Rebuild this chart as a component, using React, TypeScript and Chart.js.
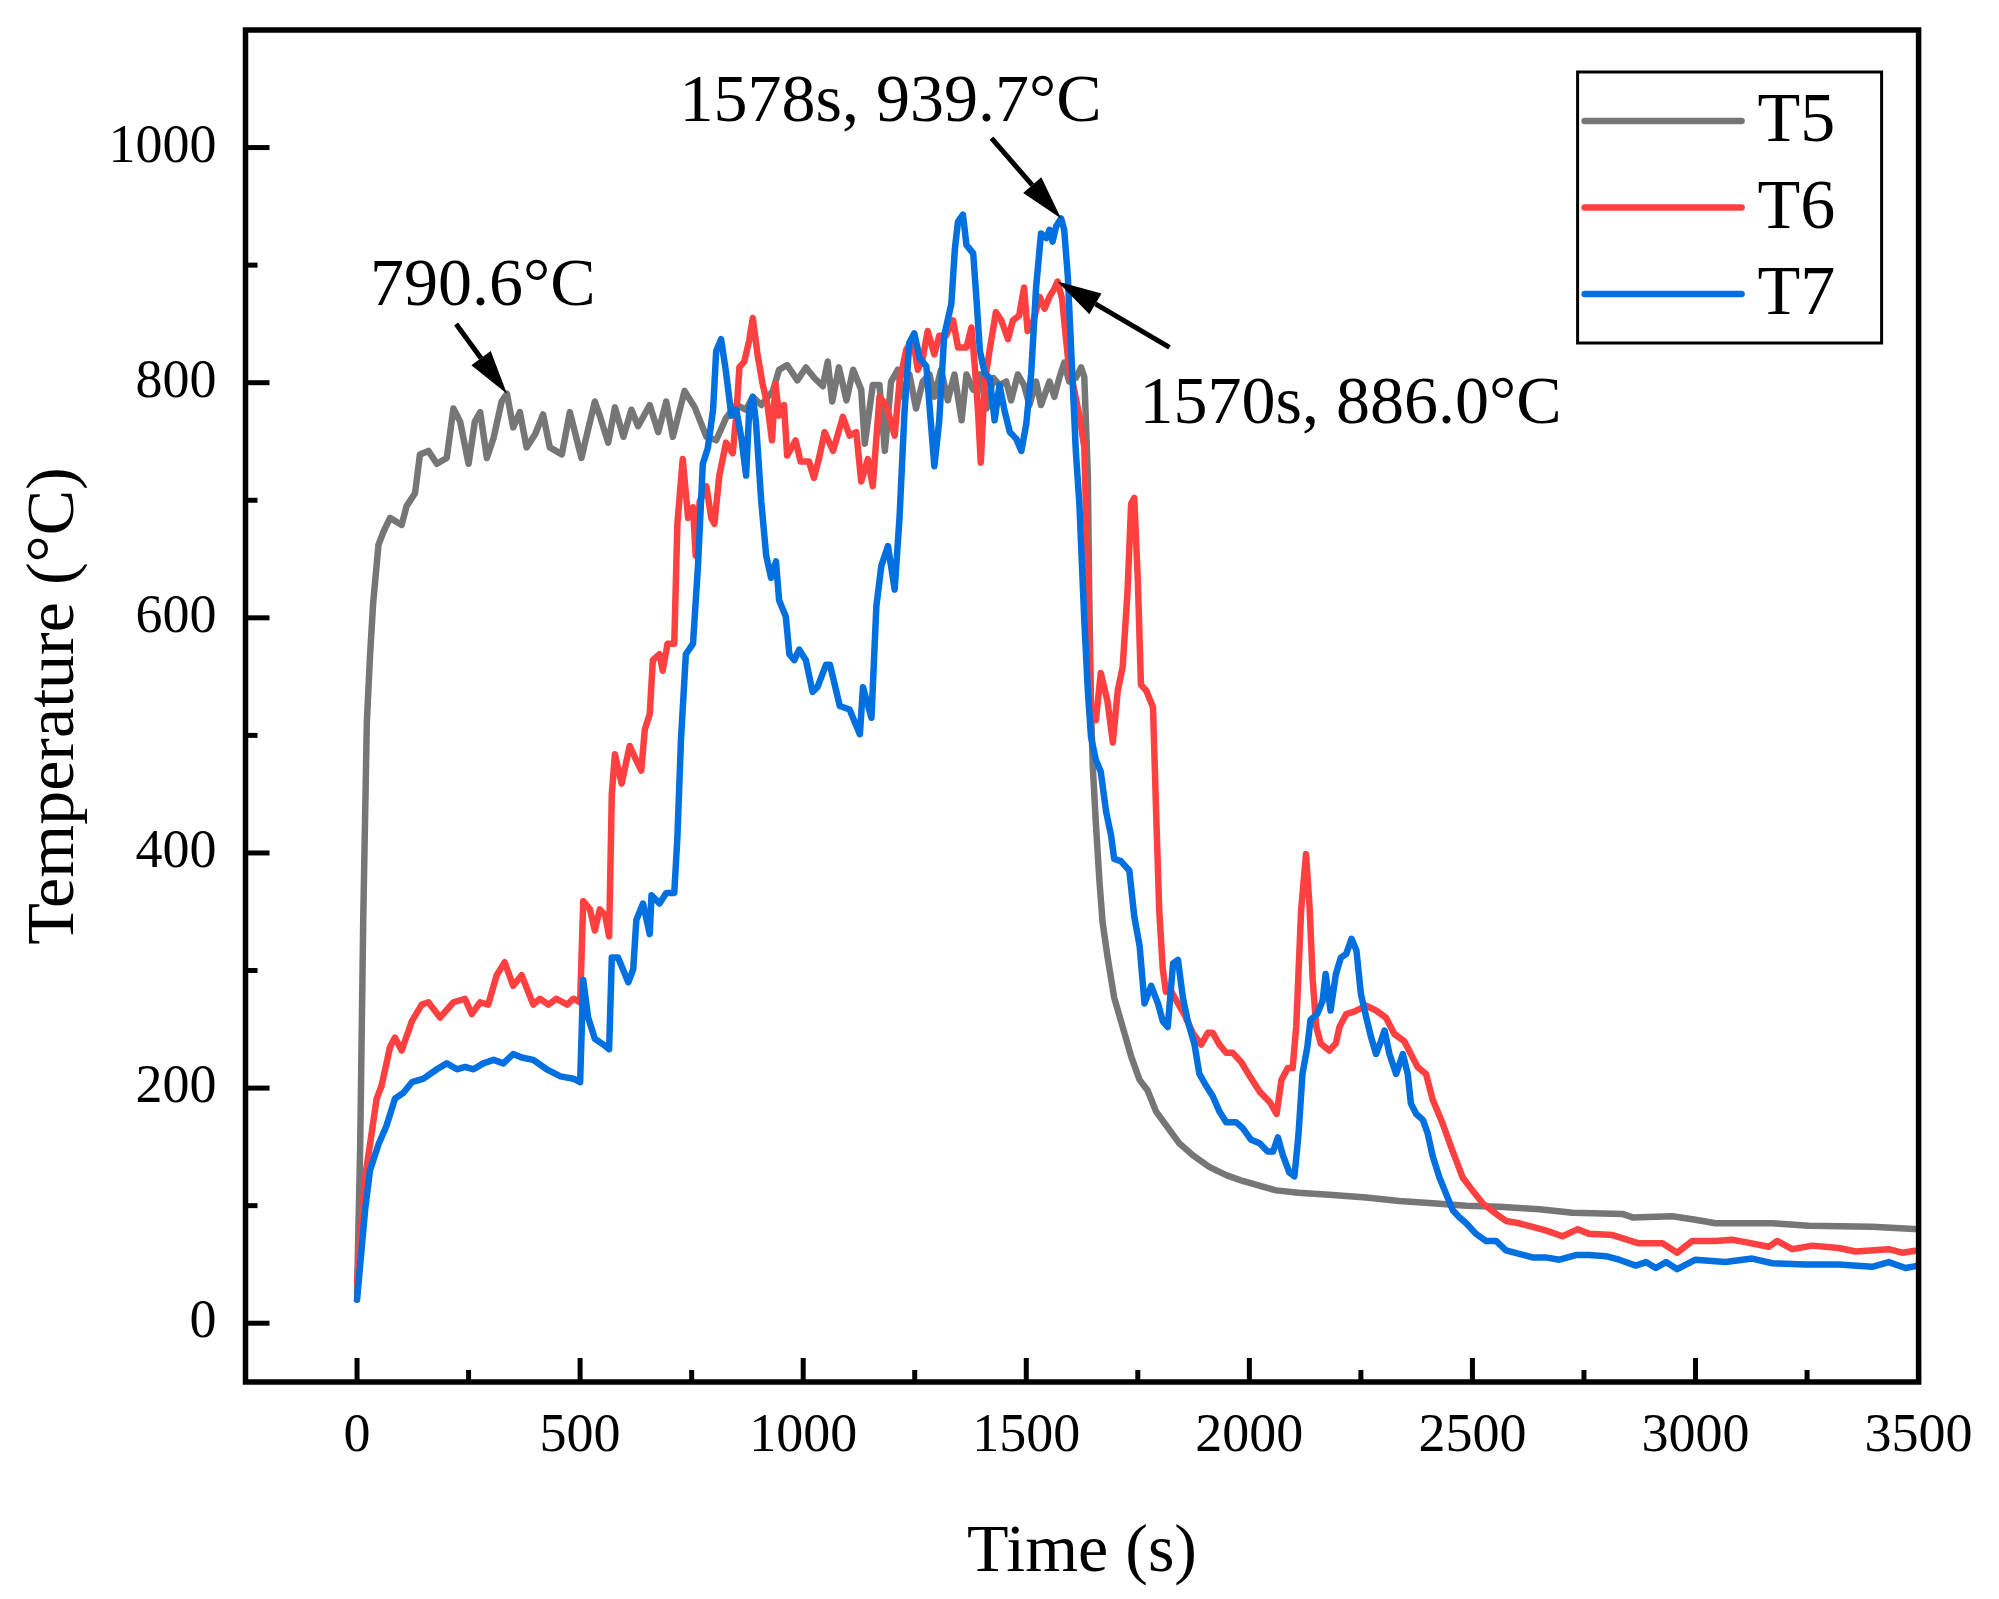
import { Chart, registerables } from 'chart.js';
import { useEffect, useRef } from 'react';

Chart.register(...registerables);

// time (s) / temperature (°C)
const t5Time = [0, 7, 14, 22, 29, 36, 48, 59, 74, 100, 111, 130, 141, 160, 179, 201, 216, 231, 250, 264, 276, 291, 306, 324, 336, 350, 365, 380, 399, 417, 432, 459, 477, 503, 514, 533, 544, 563, 578, 597, 615, 630, 656, 675, 693, 708, 734, 757, 783, 805, 827, 850, 872, 887, 906, 932, 946, 964, 987, 1006, 1025, 1044, 1055, 1065, 1080, 1097, 1112, 1130, 1138, 1156, 1171, 1183, 1197, 1212, 1224, 1238, 1253, 1268, 1283, 1294, 1309, 1324, 1339, 1355, 1366, 1381, 1396, 1411, 1426, 1440, 1455, 1466, 1481, 1495, 1507, 1522, 1533, 1552, 1563, 1574, 1585, 1596, 1611, 1623, 1630, 1638, 1641, 1645, 1649, 1656, 1664, 1671, 1682, 1697, 1716, 1735, 1754, 1772, 1791, 1814, 1843, 1873, 1910, 1948, 1985, 2022, 2060, 2110, 2187, 2262, 2336, 2411, 2486, 2560, 2650, 2724, 2836, 2859, 2948, 3000, 3045, 3172, 3254, 3396, 3500];
const t5Temp = [25, 150, 346, 512, 567, 612, 662, 673, 685, 679, 695, 706, 739, 742, 731, 736, 778, 767, 731, 767, 775, 736, 753, 784, 790.6, 762, 775, 745, 756, 773, 745, 739, 775, 736, 754, 784, 772, 749, 779, 754, 777, 763, 781, 758, 784, 754, 793, 779, 754, 751, 770, 781, 777, 788, 781, 793, 811, 815, 802, 813, 804, 797, 818, 784, 813, 785, 811, 794, 748, 798, 798, 742, 801, 811, 788, 807, 778, 801, 807, 788, 811, 785, 807, 768, 807, 794, 807, 778, 804, 798, 801, 785, 807, 798, 781, 801, 781, 801, 788, 804, 817, 801, 804, 813, 805, 721, 623, 524, 474, 425, 376, 341, 312, 277, 252, 227, 207, 198, 180, 168, 153, 143, 133, 126, 121, 117, 113, 111, 109, 107, 104, 102, 100, 99, 97, 94, 93, 90, 91, 88, 85, 85, 83, 82, 80];

const t6Time = [0, 18, 29, 44, 55, 74, 85, 100, 123, 145, 160, 186, 216, 242, 257, 276, 294, 313, 331, 350, 369, 395, 410, 429, 447, 471, 485, 500, 507, 522, 533, 544, 556, 565, 571, 578, 593, 611, 622, 637, 645, 656, 663, 678, 685, 696, 711, 718, 730, 742, 753, 759, 768, 783, 794, 801, 812, 827, 842, 850, 857, 868, 879, 887, 898, 909, 920, 930, 938, 946, 957, 964, 983, 994, 1013, 1024, 1035, 1048, 1067, 1089, 1104, 1119, 1130, 1145, 1156, 1171, 1186, 1205, 1216, 1231, 1246, 1257, 1268, 1279, 1294, 1305, 1320, 1336, 1347, 1366, 1377, 1384, 1392, 1398, 1407, 1418, 1432, 1444, 1459, 1470, 1484, 1495, 1503, 1514, 1530, 1541, 1552, 1563, 1570, 1580, 1587, 1595, 1604, 1619, 1630, 1637, 1645, 1656, 1667, 1682, 1694, 1705, 1716, 1727, 1735, 1742, 1750, 1757, 1769, 1784, 1791, 1798, 1806, 1813, 1825, 1840, 1855, 1873, 1892, 1907, 1918, 1933, 1948, 1963, 1982, 2001, 2023, 2046, 2061, 2072, 2086, 2097, 2105, 2116, 2127, 2135, 2142, 2150, 2160, 2179, 2194, 2202, 2217, 2235, 2262, 2284, 2306, 2325, 2347, 2362, 2377, 2396, 2411, 2433, 2455, 2478, 2500, 2523, 2553, 2575, 2605, 2635, 2664, 2702, 2736, 2762, 2814, 2873, 2926, 2959, 2993, 3045, 3082, 3112, 3164, 3183, 3217, 3262, 3321, 3359, 3433, 3463, 3500];
const t6Temp = [35, 124, 152, 191, 202, 235, 243, 232, 257, 271, 273, 260, 273, 276, 263, 273, 271, 296, 307, 287, 296, 271, 276, 271, 276, 271, 276, 273, 359, 352, 334, 352, 347, 329, 450, 484, 459, 491, 482, 470, 505, 518, 564, 569, 555, 578, 578, 680, 735, 685, 694, 653, 699, 712, 685, 680, 721, 749, 740, 772, 813, 818, 836, 855, 823, 799, 781, 751, 799, 772, 781, 738, 751, 733, 733, 719, 735, 758, 742, 771, 755, 758, 716, 735, 712, 788, 781, 755, 801, 828, 837, 811, 821, 844, 824, 840, 840, 853, 830, 830, 847, 817, 775, 732, 801, 828, 860, 853, 837, 853, 857, 881, 844, 850, 873, 863, 873, 880, 886, 872, 845, 815, 800, 772, 745, 647, 524, 513, 553, 529, 494, 538, 558, 623, 697, 702, 632, 543, 538, 524, 435, 351, 301, 282, 282, 272, 262, 247, 237, 247, 247, 237, 230, 230, 222, 210, 197, 188, 178, 207, 217, 217, 252, 351, 399, 354, 292, 252, 238, 232, 238, 252, 263, 265, 270, 266, 260, 246, 240, 229, 218, 212, 190, 170, 147, 124, 113, 102, 93, 87, 85, 82, 79, 74, 80, 76, 75, 68, 68, 60, 70, 70, 71, 69, 65, 70, 63, 66, 64, 61, 63, 60, 62];

const t7Time = [0, 18, 29, 48, 66, 85, 104, 123, 149, 179, 201, 224, 242, 261, 283, 306, 328, 350, 369, 395, 425, 456, 485, 500, 507, 518, 533, 552, 565, 571, 585, 608, 619, 626, 641, 656, 660, 678, 693, 711, 718, 726, 737, 753, 764, 775, 786, 798, 805, 816, 827, 839, 850, 861, 872, 879, 887, 894, 906, 917, 928, 939, 946, 961, 969, 980, 991, 1006, 1021, 1032, 1051, 1060, 1082, 1104, 1127, 1134, 1153, 1164, 1175, 1190, 1205, 1216, 1227, 1238, 1249, 1261, 1276, 1287, 1294, 1305, 1316, 1332, 1340, 1347, 1358, 1366, 1381, 1388, 1396, 1407, 1418, 1429, 1440, 1452, 1463, 1478, 1489, 1500, 1511, 1522, 1533, 1545, 1552, 1559, 1567, 1578, 1585, 1593, 1604, 1611, 1619, 1630, 1638, 1645, 1656, 1667, 1679, 1690, 1697, 1712, 1731, 1742, 1754, 1765, 1780, 1795, 1806, 1817, 1829, 1840, 1851, 1862, 1877, 1888, 1903, 1918, 1933, 1948, 1970, 1985, 2004, 2023, 2041, 2053, 2064, 2075, 2090, 2101, 2110, 2119, 2130, 2137, 2152, 2164, 2171, 2182, 2194, 2205, 2217, 2229, 2240, 2250, 2262, 2273, 2284, 2295, 2303, 2314, 2329, 2344, 2355, 2362, 2374, 2389, 2400, 2411, 2426, 2441, 2456, 2471, 2486, 2508, 2530, 2553, 2575, 2605, 2635, 2664, 2695, 2732, 2762, 2799, 2829, 2866, 2889, 2911, 2934, 2959, 3000, 3067, 3127, 3172, 3247, 3321, 3396, 3433, 3471, 3500];
const t7Temp = [20, 96, 130, 152, 168, 191, 196, 205, 208, 216, 221, 216, 218, 216, 221, 224, 221, 229, 226, 224, 216, 210, 208, 205, 292, 260, 242, 237, 233, 311, 311, 290, 301, 343, 357, 331, 364, 357, 366, 366, 413, 496, 569, 578, 643, 731, 744, 777, 827, 837, 809, 772, 777, 754, 721, 777, 788, 767, 699, 653, 634, 648, 615, 601, 569, 564, 573, 564, 537, 541, 560, 560, 525, 522, 501, 541, 515, 610, 644, 661, 624, 686, 775, 834, 842, 821, 814, 762, 729, 768, 840, 867, 914, 937, 943, 917, 910, 873, 827, 808, 804, 768, 798, 775, 758, 752, 742, 765, 808, 881, 927, 923, 930, 920, 933, 939.7, 930, 891, 800, 742, 697, 598, 538, 499, 479, 469, 435, 415, 395, 393, 385, 346, 321, 272, 287, 272, 257, 252, 306, 309, 277, 257, 237, 212, 202, 193, 180, 171, 171, 166, 156, 153, 146, 146, 158, 143, 128, 125, 160, 212, 235, 258, 263, 274, 297, 266, 297, 311, 314, 327, 317, 280, 260, 243, 229, 240, 249, 229, 212, 229, 212, 187, 178, 173, 161, 142, 124, 110, 96, 90, 85, 76, 70, 70, 62, 59, 56, 56, 54, 58, 58, 57, 54, 49, 52, 47, 52, 46, 54, 52, 55, 51, 50, 50, 48, 52, 47, 49];

const seriesNames = ['T5', 'T6', 'T7'];
const seriesColors = ['#767676', '#FF4040', '#0070E0'];

const xTicks = [0, 500, 1000, 1500, 2000, 2500, 3000, 3500];
const xMinorTicks = [250, 750, 1250, 1750, 2250, 2750, 3250];
const yTicks = [0, 200, 400, 600, 800, 1000];
const yMinorTicks = [100, 300, 500, 700, 900];

// annotation text anchor (left, baseline), arrow tail and tip, all in data units
const notes = [
    { text: '790.6°C', at: [29, 866], from: [222, 850], to: [336, 790.6] },
    { text: '1578s, 939.7°C', at: [723, 1023], from: [1422, 1008], to: [1578, 939.7] },
    { text: '1570s, 886.0°C', at: [1754, 766], from: [1821, 830], to: [1570, 886] },
];

const FONT = '"Liberation Serif", "Times New Roman", serif';

const overlay = {
    id: 'overlay',
    afterDatasetsDraw(chart: any) {
        const { ctx, chartArea: a, scales } = chart;
        const xs = scales.x, ys = scales.y;
        ctx.save();
        ctx.strokeStyle = '#000';
        ctx.fillStyle = '#000';

        // inward ticks
        ctx.lineWidth = 5;
        ctx.lineCap = 'butt';
        const tick = (px: number, py: number, dx: number, dy: number) => {
            ctx.beginPath();
            ctx.moveTo(px, py);
            ctx.lineTo(px + dx, py + dy);
            ctx.stroke();
        };
        xTicks.forEach(v => tick(xs.getPixelForValue(v), a.bottom, 0, -24));
        xMinorTicks.forEach(v => tick(xs.getPixelForValue(v), a.bottom, 0, -12));
        yTicks.forEach(v => tick(a.left, ys.getPixelForValue(v), 24, 0));
        yMinorTicks.forEach(v => tick(a.left, ys.getPixelForValue(v), 12, 0));

        // frame
        ctx.lineWidth = 5.5;
        ctx.lineJoin = 'miter';
        ctx.strokeRect(a.left, a.top, a.right - a.left, a.bottom - a.top);

        // annotations
        ctx.font = `68px ${FONT}`;
        ctx.textBaseline = 'alphabetic';
        ctx.textAlign = 'left';
        notes.forEach(n => {
            ctx.fillText(n.text, xs.getPixelForValue(n.at[0]), ys.getPixelForValue(n.at[1]));
            const x0 = xs.getPixelForValue(n.from[0]), y0 = ys.getPixelForValue(n.from[1]);
            const x1 = xs.getPixelForValue(n.to[0]), y1 = ys.getPixelForValue(n.to[1]);
            const ang = Math.atan2(y1 - y0, x1 - x0);
            const headLen = 44, headHalf = 12;
            const bx = x1 - headLen * Math.cos(ang), by = y1 - headLen * Math.sin(ang);
            ctx.lineWidth = 5;
            ctx.beginPath();
            ctx.moveTo(x0, y0);
            ctx.lineTo(bx, by);
            ctx.stroke();
            ctx.beginPath();
            ctx.moveTo(x1, y1);
            ctx.lineTo(bx + headHalf * Math.sin(ang), by - headHalf * Math.cos(ang));
            ctx.lineTo(bx - headHalf * Math.sin(ang), by + headHalf * Math.cos(ang));
            ctx.closePath();
            ctx.fill();
        });

        // legend box
        const bx0 = a.right - 341, by0 = a.top + 42, bw = 304, bh = 271;
        ctx.fillStyle = '#fff';
        ctx.fillRect(bx0, by0, bw, bh);
        ctx.lineWidth = 3;
        ctx.strokeRect(bx0, by0, bw, bh);
        ctx.font = `70px ${FONT}`;
        ctx.textBaseline = 'middle';
        seriesNames.forEach((name, i) => {
            const ly = by0 + 49 + i * 86.5;
            ctx.strokeStyle = seriesColors[i];
            ctx.lineWidth = 6.5;
            ctx.lineCap = 'round';
            ctx.beginPath();
            ctx.moveTo(bx0 + 7, ly);
            ctx.lineTo(bx0 + 164, ly);
            ctx.stroke();
            ctx.fillStyle = '#000';
            ctx.fillText(name, bx0 + 180, ly + 2);
        });
        ctx.restore();
    },
};

function App() {
    const canvasRef = useRef<HTMLCanvasElement>(null);
    const chartRef = useRef<Chart | null>(null);

    useEffect(() => {
        document.body.style.margin = '0';
        if (!canvasRef.current) return;
        const ctx = canvasRef.current.getContext('2d');
        if (!ctx) return;
        if (chartRef.current) chartRef.current.destroy();

        const series = [
            [t5Time, t5Temp],
            [t6Time, t6Temp],
            [t7Time, t7Temp],
        ];

        chartRef.current = new Chart(ctx, {
            type: 'line',
            data: {
                datasets: series.map(([tt, vv], i) => ({
                    label: seriesNames[i],
                    data: tt.map((t, k) => ({ x: t, y: vv[k] })),
                    borderColor: seriesColors[i],
                    borderWidth: 6.5,
                    pointRadius: 0,
                    tension: 0,
                    borderJoinStyle: 'round' as const,
                    borderCapStyle: 'round' as const,
                    order: 2 - i,
                })),
            },
            options: {
                responsive: false,
                animation: false,
                devicePixelRatio: 1,
                layout: { padding: { top: 30, right: 80.4, left: 0, bottom: 0 } },
                plugins: {
                    legend: { display: false },
                    tooltip: { enabled: false },
                },
                scales: {
                    x: {
                        type: 'linear',
                        min: -250,
                        max: 3500,
                        afterBuildTicks: (s: any) => { s.ticks = xTicks.map(v => ({ value: v })); },
                        afterFit: (s: any) => {
                            s.height = 217;
                            s.paddingLeft = 0;
                            s.paddingRight = 0;
                        },
                        grid: { display: false, drawTicks: false },
                        border: { display: false },
                        ticks: {
                            padding: 22,
                            color: '#000',
                            font: { family: FONT, size: 54 },
                            maxRotation: 0,
                            autoSkip: false,
                            callback: (v: any) => String(v),
                        },
                        title: {
                            display: true,
                            text: 'Time (s)',
                            color: '#000',
                            font: { family: FONT, size: 68 },
                            padding: { top: 0, bottom: 5 },
                        },
                    },
                    y: {
                        type: 'linear',
                        min: -50,
                        max: 1100,
                        afterBuildTicks: (s: any) => { s.ticks = yTicks.map(v => ({ value: v })); },
                        afterFit: (s: any) => {
                            s.width = 245.5;
                            s.paddingTop = 0;
                            s.paddingBottom = 0;
                        },
                        grid: { display: false, drawTicks: false },
                        border: { display: false },
                        ticks: {
                            padding: 29,
                            color: '#000',
                            font: { family: FONT, size: 54 },
                            autoSkip: false,
                            callback: (v: any) => String(v),
                        },
                        title: {
                            display: true,
                            text: 'Temperature (°C)',
                            color: '#000',
                            font: { family: FONT, size: 68 },
                            padding: { top: 14, bottom: 0 },
                        },
                    },
                },
            },
            plugins: [overlay],
        });

        return () => {
            if (chartRef.current) {
                chartRef.current.destroy();
                chartRef.current = null;
            }
        };
    }, []);

    return (
        <div style={{ width: 1999, height: 1599, background: '#fff' }}>
            <canvas ref={canvasRef} width={1999} height={1599} style={{ display: 'block' }} />
        </div>
    );
}

export default App;
